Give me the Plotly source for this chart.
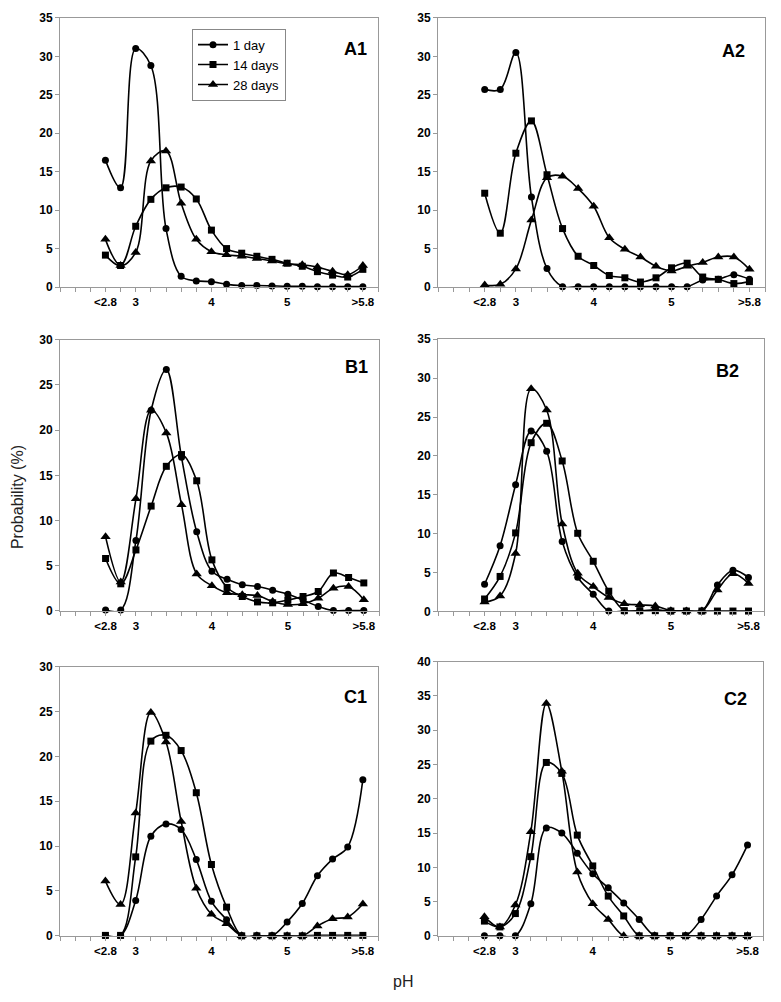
import plotly.graph_objects as go

# pH classes (x positions) and tick labels
ph = [2.6, 2.8, 3.0, 3.2, 3.4, 3.6, 3.8, 4.0, 4.2, 4.4, 4.6, 4.8, 5.0, 5.2, 5.4, 5.6, 5.8, 6.0]
tick_vals = [2.6, 3, 4, 5, 6]
tick_text = ["<2.8", "3", "4", "5", ">5.8"]
series_names = ["1 day", "14 days", "28 days"]

# Panel A1
a1_d1 = [16.5, 12.9, 31.0, 28.8, 7.6, 1.4, 0.8, 0.7, 0.35, 0.2, 0.2, 0.15, 0.1, 0.1, 0.05, 0.05, 0.05, 0.05]
a1_d14 = [4.15, 2.8, 7.9, 11.4, 12.9, 13.0, 11.45, 7.4, 5.0, 4.4, 4.0, 3.6, 3.1, 2.7, 2.0, 1.55, 1.3, 2.3]
a1_d28 = [6.2, 2.8, 4.5, 16.4, 17.7, 10.9, 6.2, 4.6, 4.2, 4.0, 3.7, 3.4, 3.0, 2.9, 2.6, 2.05, 1.6, 2.8]
# Panel A2
a2_d1 = [25.7, 25.7, 30.5, 11.7, 2.4, 0.05, 0.05, 0.05, 0.05, 0.05, 0.05, 0.05, 0.05, 0.05, 0.9, 1.0, 1.6, 1.0]
a2_d14 = [12.2, 7.0, 17.4, 21.6, 14.6, 7.6, 4.0, 2.8, 1.5, 1.2, 0.65, 1.2, 2.5, 3.1, 1.3, 1.0, 0.45, 0.7]
a2_d28 = [0.25, 0.35, 2.35, 8.7, 14.2, 14.4, 12.8, 10.5, 6.4, 4.9, 3.9, 2.7, 2.1, 2.7, 3.2, 3.9, 3.9, 2.3]
# Panel B1
b1_d1 = [0.1, 0.1, 7.8, 22.2, 26.7, 17.0, 8.75, 4.4, 3.5, 2.9, 2.7, 2.3, 1.85, 1.2, 0.5, 0.05, 0.05, 0.05]
b1_d14 = [5.8, 3.0, 6.75, 11.6, 16.0, 17.3, 14.4, 5.65, 2.6, 1.6, 1.0, 0.9, 1.2, 1.6, 2.15, 4.2, 3.7, 3.1]
b1_d28 = [8.2, 3.2, 12.4, 22.2, 19.7, 11.75, 4.1, 2.8, 2.0, 1.8, 1.7, 1.05, 0.7, 0.8, 1.4, 2.5, 2.7, 1.25]
# Panel B2
b2_d1 = [3.5, 8.45, 16.3, 23.2, 20.6, 9.0, 4.4, 2.2, 0.05, 0.05, 0.05, 0.2, 0.05, 0.05, 0.05, 3.4, 5.3, 4.35]
b2_d14 = [1.6, 4.5, 10.1, 21.7, 24.2, 19.35, 10.05, 6.45, 2.6, 0.1, 0.1, 0.1, 0.05, 0.05, 0.05, 0.05, 0.05, 0.05]
b2_d28 = [1.2, 2.0, 7.45, 28.65, 25.9, 11.25, 4.9, 3.2, 1.8, 1.0, 0.85, 0.7, 0.1, 0.05, 0.05, 2.75, 4.85, 3.6]
# Panel C1
c1_d1 = [0.05, 0.05, 3.95, 11.1, 12.45, 11.85, 8.5, 3.85, 1.8, 0.0, 0.0, 0.0, 1.55, 3.6, 6.7, 8.55, 9.9, 17.4]
c1_d14 = [0.05, 0.05, 8.8, 21.7, 22.35, 20.65, 15.95, 7.95, 3.2, 0.0, 0.0, 0.0, 0.0, 0.0, 0.05, 0.05, 0.05, 0.05]
c1_d28 = [6.1, 3.5, 13.7, 24.9, 21.6, 12.75, 5.3, 2.4, 1.35, 0.0, 0.0, 0.0, 0.0, 0.0, 1.1, 1.9, 2.1, 3.55]
# Panel C2
c2_d1 = [0.0, 0.0, 0.0, 4.7, 15.75, 15.0, 12.05, 9.05, 7.0, 4.8, 2.4, 0.0, 0.0, 0.0, 2.4, 5.8, 8.9, 13.25]
c2_d14 = [2.15, 1.3, 3.25, 11.55, 25.3, 23.7, 14.7, 10.2, 5.8, 2.9, 0.0, 0.0, 0.0, 0.0, 0.0, 0.0, 0.0, 0.0]
c2_d28 = [2.8, 1.3, 4.5, 15.2, 33.9, 24.0, 9.3, 4.7, 2.4, 0.0, 0.0, 0.0, 0.0, 0.0, 0.0, 0.0, 0.0, 0.0]

panels = [
    ("A1", [a1_d1, a1_d14, a1_d28], 35),
    ("A2", [a2_d1, a2_d14, a2_d28], 35),
    ("B1", [b1_d1, b1_d14, b1_d28], 30),
    ("B2", [b2_d1, b2_d14, b2_d28], 35),
    ("C1", [c1_d1, c1_d14, c1_d28], 30),
    ("C2", [c2_d1, c2_d14, c2_d28], 40),
]

W, H = 781, 1002
# pixel frames: (left, right, top, bottom)
frames = [
    (60, 378, 11, 284),
    (438, 765, 11, 284),
    (60, 379, 337.5, 612.5),
    (438, 764, 337, 613),
    (60, 378, 669, 942),
    (438, 763, 664, 942),
]
label_pos = [(0.928, 0.883), (0.905, 0.875), (0.93, 0.9), (0.887, 0.882), (0.93, 0.886), (0.915, 0.863)]

symbols = ["circle", "square", "triangle-up"]
msizes = [7, 7, 9]
FONT = "Liberation Sans, Arial, sans-serif"
AXC = "#999999"

fig = go.Figure()
layout = dict(
    width=W, height=H, margin=dict(l=0, r=0, t=0, b=0),
    paper_bgcolor="white", plot_bgcolor="white",
    font=dict(family=FONT, color="black"),
    showlegend=True,
    legend=dict(x=192 / W, y=1 - 22 / H, xanchor="left", yanchor="top",
                bgcolor="white", bordercolor="#888888", borderwidth=1,
                font=dict(size=13, family=FONT), tracegroupgap=0, itemwidth=30),
    annotations=[],
)

for i, (name, data, ymax) in enumerate(panels):
    n = i + 1
    xa = "x" if n == 1 else f"x{n}"
    ya = "y" if n == 1 else f"y{n}"
    l, r, t, b = frames[i]
    for k, vals in enumerate(data):
        fig.add_trace(go.Scatter(
            x=ph, y=vals, xaxis=xa, yaxis=ya, mode="lines+markers",
            name=series_names[k], showlegend=(n == 1), legendgroup=series_names[k],
            line=dict(color="black", width=1.6, shape="spline", smoothing=1.0),
            marker=dict(symbol=symbols[k], size=msizes[k], color="black"),
            cliponaxis=False,
        ))
    layout["xaxis" if n == 1 else f"xaxis{n}"] = dict(
        domain=[l / W, r / W], anchor=ya, range=[2.0, 6.2],
        tickmode="array", tickvals=tick_vals, ticktext=tick_text,
        ticks="outside", ticklen=4, tickcolor=AXC, tickwidth=1,
        minor=dict(dtick=0.2, tick0=2.0, ticks="outside", ticklen=4, tickcolor=AXC, tickwidth=1),
        showline=True, linecolor=AXC, linewidth=1, mirror=True,
        showgrid=False, zeroline=False,
        tickfont=dict(size=11.5, family=FONT, color="black", weight="bold"),
    )
    layout["yaxis" if n == 1 else f"yaxis{n}"] = dict(
        domain=[1 - b / H, 1 - t / H], anchor=xa, range=[0, ymax], dtick=5,
        ticks="outside", ticklen=4, tickcolor=AXC, tickwidth=1,
        showline=True, linecolor=AXC, linewidth=1, mirror=True,
        showgrid=False, zeroline=False,
        tickfont=dict(size=12, family=FONT, color="black", weight="bold"),
    )
    lx, ly = label_pos[i]
    layout["annotations"].append(dict(
        text=f"<b>{name}</b>", xref=f"{xa} domain", yref=f"{ya} domain",
        x=lx, y=ly, xanchor="center", yanchor="middle", showarrow=False,
        font=dict(size=18, family=FONT, color="black"),
    ))

layout["annotations"].append(dict(
    text="Probability (%)", xref="paper", yref="paper", x=17 / W, y=1 - 497 / H,
    xanchor="center", yanchor="middle",
    textangle=-90, showarrow=False, font=dict(size=16, family=FONT, color="#222222"),
))
layout["annotations"].append(dict(
    text="pH", xref="paper", yref="paper", x=403 / W, y=1 - 988 / H,
    xanchor="center", yanchor="middle",
    showarrow=False, font=dict(size=16, family=FONT, color="#222222"),
))

fig.update_layout(**layout)
fig.write_html(
    "out.html",
    config={"displayModeBar": False, "responsive": False},
    post_script=(
        "document.documentElement.style.margin='0';"
        "document.documentElement.style.overflow='hidden';"
        "document.body.style.margin='0';"
        "document.body.style.padding='0';"
        "document.body.style.overflow='hidden';"
    ),
)
